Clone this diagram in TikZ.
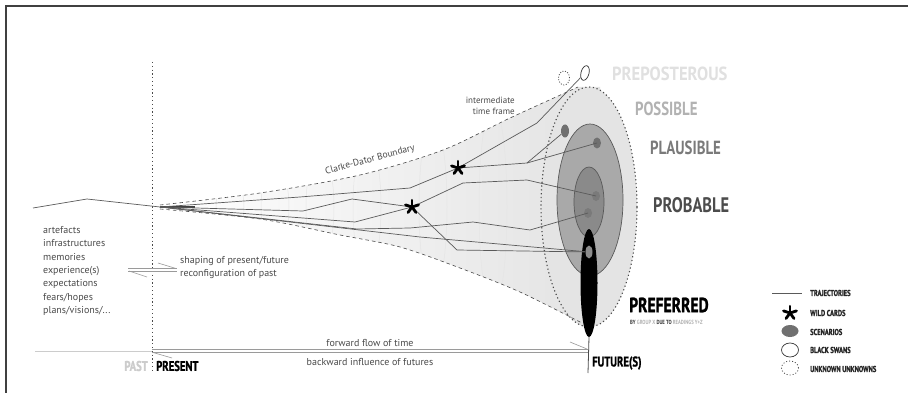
\documentclass[tikz,border=0pt]{standalone}
\usepackage{fontspec}
\setmainfont{PT Sans}
\newfontfamily\condfont[FakeStretch=0.78]{PT Sans}
\newfontfamily\heavyfont[FakeStretch=0.76, FakeBold=1.2]{PT Sans}
\usetikzlibrary{arrows.meta,positioning,shapes.geometric}
\definecolor{inkgray}{HTML}{4A4A4A}
\definecolor{trajgray}{HTML}{5A5A5A}
\definecolor{flowgray}{HTML}{9A9A9A}
\definecolor{possfill}{HTML}{E4E4E4}
\definecolor{plausfill}{HTML}{A9A9A9}
\definecolor{probfill}{HTML}{8A8A8A}
\definecolor{scengray}{HTML}{707070}
\tikzset{trajline/.style={draw=trajgray, line width=0.7pt, line join=round},
  boundary/.style={draw=inkgray, line width=0.6pt, dash pattern=on 3.5pt off 3pt},
  dotline/.style={draw=inkgray, line width=1.1pt, dash pattern=on 1.2pt off 2.6pt},
  timeframe/.style={draw=black!10, line width=0.5pt},
  flowline/.style={draw=flowgray, line width=0.6pt},
  smalltext/.style={font=\fontsize{10}{13.4}\selectfont, text=inkgray, inner sep=0pt},
  bigcap/.style={font=\condfont\bfseries\fontsize{#1}{#1}\selectfont, inner sep=0pt, anchor=west},
  heavycap/.style={font=\heavyfont\bfseries\fontsize{#1}{#1}\selectfont, inner sep=0pt, anchor=west},
  legendtext/.style={font=\heavyfont\bfseries\fontsize{8.5}{8.5}\selectfont, text=black!85, inner sep=0pt, anchor=west},
  blob/.style={ellipse, inner sep=0pt, minimum width=8pt, minimum height=13pt},
  wildcard/.pic={\foreach \a in {-90,-18,...,198} \draw[line width=2.8pt, line cap=round] (0,0) -- (\a:6.8);}}

\begin{document}
\begin{tikzpicture}[x=1pt, y=-1pt]
    \useasboundingbox (0,0) rectangle (908,393);
    \fill[white] (0,0) rectangle (908,393);
    % frame
    \draw[line width=1.5pt, black!75] (6,393) -- (6,6) -- (908,6);
    % present and past
    \draw[dotline, line width=1pt] (152,62) -- (152,373);
    \draw[draw=black!20, line width=0.8pt] (35,351) -- (152,351);
    % cone of futures
    \shade[left color=white, right color=black!11]
      plot[smooth] coordinates {(160,205) (260,193) (360,175) (443,150) (510,118) (578,87)}
      -- (600,87) -- (600,323)
      -- plot[smooth] coordinates {(582,323) (520,292) (460,268) (400,247) (340,235) (260,219) (160,209)} -- cycle;
    \fill[possfill] (589,207) ellipse [x radius=48pt, y radius=120pt];
    \begin{scope}
      \clip plot[smooth] coordinates {(160,205) (260,193) (360,175) (443,150) (510,118) (578,87)}
        -- plot[smooth] coordinates {(582,323) (520,292) (460,268) (400,247) (340,235) (260,219) (160,209)} -- cycle;
      \foreach \xx/\ry in {230/30, 275/42, 320/55, 367/68, 433/86, 493/102}
        \draw[timeframe] (\xx,207) ellipse [x radius=14pt, y radius=\ry pt];
    \end{scope}
    \draw[boundary] plot[smooth] coordinates {(160,205) (260,193) (360,175) (443,150) (510,118) (578,87)};
    \draw[boundary] plot[smooth] coordinates {(160,209) (260,219) (340,235) (400,247) (460,268) (520,292) (582,323)};
    \draw[dotline] (589,207) ellipse [x radius=48pt, y radius=120pt];
    \draw[draw=black!65, fill=plausfill, line width=0.7pt] (590,200) ellipse [x radius=33pt, y radius=76pt];
    \draw[draw=black!65, fill=probfill, line width=0.7pt] (589,202) ellipse [x radius=15pt, y radius=35pt];
    % scenarios and preferred
    \node[blob, fill=scengray] (scen1) at (565,131) {};
    \node[blob, fill=scengray, minimum height=11pt] (scen2) at (597,143) {};
    \node[blob, fill=black!52, minimum height=10pt] (scen3) at (596,196) {};
    \node[blob, fill=black!52, minimum height=10pt] (scen4) at (588,213) {};
    \node[ellipse, fill=black, inner sep=0pt, minimum width=17pt, minimum height=108pt] (pref) at (589,283) {};
    \node[blob, fill=black!45, minimum width=7pt] (scen5) at (589,252) {};
    \node[ellipse, draw=black!80, fill=white, line width=0.7pt, inner sep=0pt, minimum width=8pt, minimum height=15pt, rotate=-15] (swan) at (585,73) {};
    \node[ellipse, draw=black!70, dash pattern=on 1pt off 1.6pt, line width=0.8pt, inner sep=0pt, minimum width=11pt, minimum height=14pt] (unknown) at (564,78) {};
    % trajectories
    \coordinate (past1) at (33,208);
    \coordinate (past2) at (87,199);
    \coordinate (apex) at (160,207);
    \coordinate (star1) at (458,168);
    \coordinate (star2) at (412,207);
    \coordinate (fork) at (527,163);
    \draw[trajline] (past1) -- (past2) -- (apex);
    \draw[trajline, line width=2pt, black!75] (apex) -- (195,207);
    \draw[trajline] (apex) -- (300,197) -- (410,188) -- (star1) -- (537,123) -- (swan);
    \draw[trajline] (star1) -- (fork) -- (scen1);
    \draw[trajline] (fork) -- (scen2.center);
    \draw[trajline] (apex) -- (303,211) -- (352,199) -- (star2);
    \draw[trajline] (apex) -- (355,222) -- (star2);
    \draw[trajline] (star2) -- (463,183) -- (527,180) -- (scen3.center);
    \draw[trajline] (star2) -- (457,250) -- (scen5);
    \draw[trajline] (apex) -- (357,229) -- (410,228) -- (473,222) -- (530,230) -- (scen4.center);
    \draw[trajline] (apex) -- (420,237) -- (scen5);
    \pic at (star1) {wildcard};
    \pic at (star2) {wildcard};
    % time axis
    \coordinate (present) at (152,350);
    \coordinate (future) at (588,350);
    \draw[flowline] (152,349) -- (588,349);
    \draw[flowline] (152,352.5) -- (588,352.5);
    \draw[flowline] (570,342) -- (587,349);
    \draw[flowline] (153,352.5) -- (172,358);
    \draw[draw=black!70, line width=0.8pt] (pref.south) -- (588,373);
    \node[smalltext] (fwd) at (370,343) {forward flow of time};
    \node[smalltext] (bwd) at (370,362) {backward influence of futures};
    \node[heavycap=14, text=black!20, anchor=east] (past) at (148,366) {PAST};
    \node[heavycap=14] (presentlbl) at (156,366) {PRESENT};
    \node[heavycap=14] (futurelbl) at (592,363) {FUTURE(S)};
    % left texts
    \node[smalltext, align=left, anchor=north west] (traces) at (43,226)
      {artefacts\\infrastructures\\memories\\experience(s)\\expectations\\fears/hopes\\plans/visions/...};
    \draw[flowline] (128,268.5) -- (177,268.5);
    \draw[flowline] (128,271) -- (177,271);
    \draw[flowline] (158,263) -- (176,268.5);
    \draw[flowline] (129,271) -- (147,277);
    \node[smalltext, align=left, anchor=north west] (shaping) at (180,256)
      {shaping of present/future\\reconfiguration of past};
    \node[smalltext, font=\fontsize{9.5}{11}\selectfont, rotate=15] (clarke) at (370,160) {Clarke-Dator Boundary};
    \node[smalltext, font=\fontsize{9}{11}\selectfont, align=right, anchor=east] (interm) at (515,106) {intermediate\\time frame};
    % cone labels
    \node[bigcap=19, text=black!12, xscale=1.12] (prepost) at (612,74) {PREPOSTEROUS};
    \node[bigcap=19, text=black!30] (possible) at (635,109) {POSSIBLE};
    \node[bigcap=19, text=black!52] (plausible) at (650,148) {PLAUSIBLE};
    \node[bigcap=21, text=black!70] (probable) at (653,205) {PROBABLE};
    \node[heavycap=20.5, text=black] (preferred) at (629,305) {PREFERRED};
    \node[bigcap=6, text=black!80] (byline) at (630,322)
      {BY {\color{black!30}GROUP X} DUE TO {\color{black!30}READINGS Y+Z}};
    % legend
    \coordinate (lgA) at (772,293);
    \coordinate (lgB) at (802,293);
    \draw[trajline] (lgA) -- (lgB);
    \pic at (790,313) {wildcard};
    \node[ellipse, fill=scengray, inner sep=0pt, minimum width=17pt, minimum height=12pt] (lgscen) at (790,331) {};
    \node[ellipse, draw=black!80, line width=0.7pt, inner sep=0pt, minimum width=17pt, minimum height=14pt] (lgswan) at (790,350) {};
    \node[ellipse, draw=black!70, dash pattern=on 1pt off 2pt, line width=0.8pt, inner sep=0pt, minimum width=17pt, minimum height=14pt] (lgunk) at (790,368) {};
    \node[legendtext] (lt1) at (810,293) {TRAJECTORIES};
    \node[legendtext] (lt2) at (810,313) {WILD CARDS};
    \node[legendtext] (lt3) at (810,332) {SCENARIOS};
    \node[legendtext] (lt4) at (810,350) {BLACK SWANS};
    \node[legendtext] (lt5) at (810,369) {UNKNOWN UNKNOWNS};
  \end{tikzpicture}
\end{document}
